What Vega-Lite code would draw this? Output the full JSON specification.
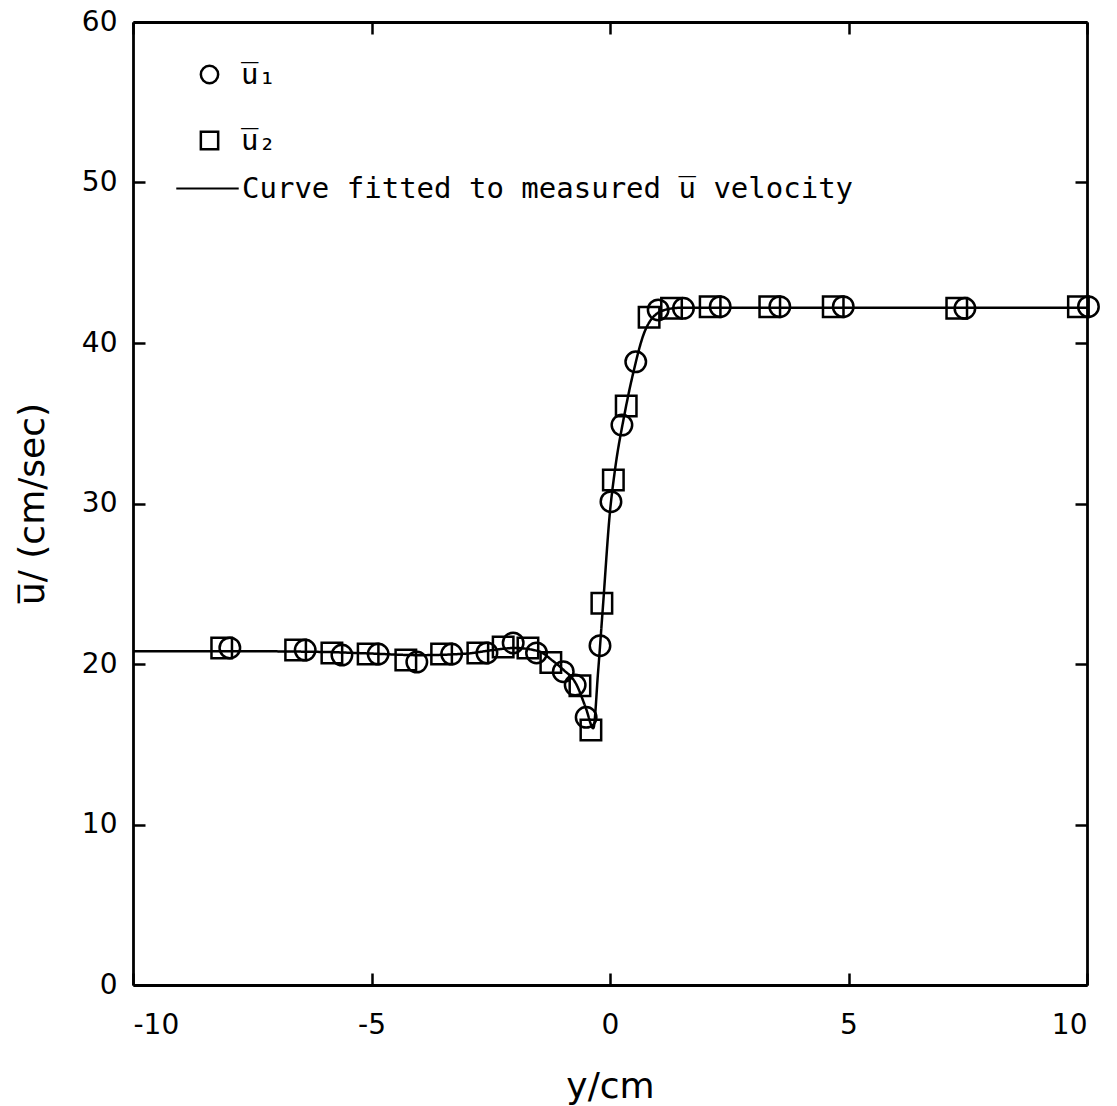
{
  "$schema": "https://vega.github.io/schema/vega-lite/v6.json",
  "width": 954,
  "height": 963,
  "autosize": "none",
  "padding": {"left": 133, "top": 22, "right": 30, "bottom": 121},
  "background": "white",
  "config": {
    "view": {"stroke": null},
    "axis": {
      "domainColor": "black",
      "domainWidth": 2.8,
      "tickColor": "black",
      "tickWidth": 2.5,
      "tickSize": -12,
      "labelFont": "DejaVu Sans",
      "labelFontSize": 28,
      "labelColor": "black",
      "titleFont": "DejaVu Sans",
      "titleFontSize": 36,
      "titleFontWeight": "normal",
      "titleColor": "black",
      "grid": false
    },
    "legend": {
      "labelFont": "DejaVu Sans Mono",
      "labelFontSize": 29,
      "labelColor": "black",
      "labelLimit": 900
    }
  },
  "datasets": {
    "curve": [
      {"y_cm": -10, "u": 20.8},
      {"y_cm": -8, "u": 20.8},
      {"y_cm": -6, "u": 20.75},
      {"y_cm": -5, "u": 20.65},
      {"y_cm": -4, "u": 20.55},
      {"y_cm": -3, "u": 20.65},
      {"y_cm": -2.5, "u": 20.85},
      {"y_cm": -2, "u": 21.0},
      {"y_cm": -1.5, "u": 20.8},
      {"y_cm": -1.2, "u": 20.2},
      {"y_cm": -1.0, "u": 19.7},
      {"y_cm": -0.7, "u": 18.7},
      {"y_cm": -0.5, "u": 17.2},
      {"y_cm": -0.35, "u": 16.0},
      {"y_cm": -0.25, "u": 19.5},
      {"y_cm": -0.15, "u": 23.5},
      {"y_cm": 0.0, "u": 29.5},
      {"y_cm": 0.1, "u": 32.0},
      {"y_cm": 0.3, "u": 35.5},
      {"y_cm": 0.5, "u": 38.3},
      {"y_cm": 0.7, "u": 40.5},
      {"y_cm": 0.9, "u": 41.6},
      {"y_cm": 1.2, "u": 42.1},
      {"y_cm": 1.5, "u": 42.2},
      {"y_cm": 10, "u": 42.2}
    ],
    "points": [
      {"series": "u̅₁", "y_cm": -7.97, "u": 21.0},
      {"series": "u̅₁", "y_cm": -6.39, "u": 20.87},
      {"series": "u̅₁", "y_cm": -5.62, "u": 20.56},
      {"series": "u̅₁", "y_cm": -4.86, "u": 20.62},
      {"series": "u̅₁", "y_cm": -4.05, "u": 20.12},
      {"series": "u̅₁", "y_cm": -3.32, "u": 20.62},
      {"series": "u̅₁", "y_cm": -2.58, "u": 20.69},
      {"series": "u̅₁", "y_cm": -2.03, "u": 21.31},
      {"series": "u̅₁", "y_cm": -1.54, "u": 20.69},
      {"series": "u̅₁", "y_cm": -0.98, "u": 19.52},
      {"series": "u̅₁", "y_cm": -0.73, "u": 18.69},
      {"series": "u̅₁", "y_cm": -0.5, "u": 16.68},
      {"series": "u̅₁", "y_cm": -0.21, "u": 21.14},
      {"series": "u̅₁", "y_cm": 0.02, "u": 30.11},
      {"series": "u̅₁", "y_cm": 0.25, "u": 34.89},
      {"series": "u̅₁", "y_cm": 0.54, "u": 38.83},
      {"series": "u̅₁", "y_cm": 1.01, "u": 42.06},
      {"series": "u̅₁", "y_cm": 1.54, "u": 42.16},
      {"series": "u̅₁", "y_cm": 2.31, "u": 42.26},
      {"series": "u̅₁", "y_cm": 3.56, "u": 42.26},
      {"series": "u̅₁", "y_cm": 4.89, "u": 42.26},
      {"series": "u̅₁", "y_cm": 7.44, "u": 42.16},
      {"series": "u̅₁", "y_cm": 10.03, "u": 42.26},
      {"series": "u̅₂", "y_cm": -8.14, "u": 21.0},
      {"series": "u̅₂", "y_cm": -6.59, "u": 20.87},
      {"series": "u̅₂", "y_cm": -5.83, "u": 20.69},
      {"series": "u̅₂", "y_cm": -5.07, "u": 20.62},
      {"series": "u̅₂", "y_cm": -4.28, "u": 20.25},
      {"series": "u̅₂", "y_cm": -3.53, "u": 20.62},
      {"series": "u̅₂", "y_cm": -2.77, "u": 20.69},
      {"series": "u̅₂", "y_cm": -2.24, "u": 21.06},
      {"series": "u̅₂", "y_cm": -1.72, "u": 21.0},
      {"series": "u̅₂", "y_cm": -1.24, "u": 20.1},
      {"series": "u̅₂", "y_cm": -0.63, "u": 18.65},
      {"series": "u̅₂", "y_cm": -0.4, "u": 15.89},
      {"series": "u̅₂", "y_cm": -0.17, "u": 23.78},
      {"series": "u̅₂", "y_cm": 0.07, "u": 31.46},
      {"series": "u̅₂", "y_cm": 0.34, "u": 36.07},
      {"series": "u̅₂", "y_cm": 0.82, "u": 41.6},
      {"series": "u̅₂", "y_cm": 1.29, "u": 42.16},
      {"series": "u̅₂", "y_cm": 2.1, "u": 42.26},
      {"series": "u̅₂", "y_cm": 3.35, "u": 42.26},
      {"series": "u̅₂", "y_cm": 4.68, "u": 42.26},
      {"series": "u̅₂", "y_cm": 7.27, "u": 42.16},
      {"series": "u̅₂", "y_cm": 9.82, "u": 42.26}
    ]
  },
  "resolve": {"axis": {"x": "independent", "y": "independent"}},
  "layer": [
    {
      "data": {"name": "curve"},
      "mark": {"type": "line", "color": "black", "strokeWidth": 2.5, "interpolate": "monotone"},
      "encoding": {
        "x": {
          "field": "y_cm", "type": "quantitative",
          "scale": {"domain": [-10, 10], "nice": false, "zero": false},
          "axis": {"orient": "bottom", "values": [-10, -5, 0, 5, 10], "title": "y/cm", "labelPadding": 38, "titlePadding": 30, "labelExpr": "replace(datum.label, '−', '-')"}
        },
        "y": {
          "field": "u", "type": "quantitative",
          "scale": {"domain": [0, 60], "nice": false},
          "axis": {"orient": "left", "values": [0, 10, 20, 30, 40, 50, 60], "title": "u̅/ (cm/sec)", "labelPadding": 28, "titlePadding": 30}
        },
        "strokeDash": {
          "datum": "Curve fitted to measured u̅ velocity",
          "scale": {"range": [[1, 0]]},
          "legend": {
            "title": null,
            "orient": "none",
            "legendX": 42,
            "legendY": 134,
            "symbolType": "stroke",
            "symbolSize": 3900,
            "symbolStrokeWidth": 2.2,
            "symbolStrokeColor": "black",
            "labelOffset": 2
          }
        }
      }
    },
    {
      "data": {"name": "points"},
      "mark": {"type": "point", "filled": false, "strokeWidth": 2.5, "size": 420, "color": "black", "opacity": 1},
      "encoding": {
        "x": {
          "field": "y_cm", "type": "quantitative",
          "axis": {"orient": "top", "values": [-10, -5, 0, 5, 10], "labels": false, "title": null}
        },
        "y": {
          "field": "u", "type": "quantitative",
          "axis": {"orient": "right", "values": [0, 10, 20, 30, 40, 50, 60], "labels": false, "title": null}
        },
        "shape": {
          "field": "series", "type": "nominal",
          "scale": {"domain": ["u̅₁", "u̅₂"], "range": ["circle", "square"]},
          "legend": {
            "title": null,
            "orient": "none",
            "legendX": 42,
            "legendY": 38,
            "symbolSize": 300,
            "symbolStrokeWidth": 2.5,
            "symbolStrokeColor": "black",
            "symbolFillColor": "transparent",
            "symbolOffset": 20,
            "labelOffset": 17,
            "rowPadding": 36
          }
        }
      }
    }
  ]
}
